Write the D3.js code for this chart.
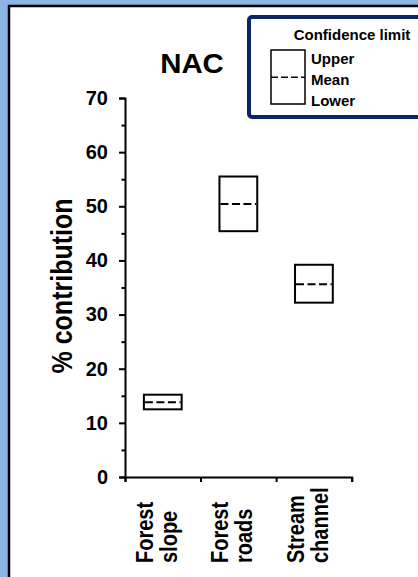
<!DOCTYPE html>
<html>
<head>
<meta charset="utf-8">
<script src="https://cdn.jsdelivr.net/npm/d3@7"></script>
<style>
  body { margin: 0; padding: 0; background: #8db4e2; }
  svg { display: block; font-family: Arial, "Liberation Sans", sans-serif; font-weight: bold; }
</style>
</head>
<body>
<div id="chart"></div>
<script>
// chart values
const categories = ["Forest slope", "Forest roads", "Stream channel"];
const categoryLines = [["Forest", "slope"], ["Forest", "roads"], ["Stream", "channel"]];
const lowerValues = [12.5, 45.4, 32.2];
const meanValues = [13.8, 50.4, 35.6];
const upperValues = [15.2, 55.5, 39.2];
const majorTicks = [0, 10, 20, 30, 40, 50, 60, 70];
const minorTicks = [5, 15, 25, 35, 45, 55, 65];
const legendLabels = ["Upper", "Mean", "Lower"];

const W = 418, H = 577;
const plot = {left: 125, right: 351.7, top: 98, bottom: 477};

const svg = d3.select("#chart")
    .append("svg")
    .attr("width", W)
    .attr("height", H);

// outer blue frame and white panel
svg.append("rect")
    .attr("width", W)
    .attr("height", H)
    .attr("fill", "#8db4e2");

svg.append("rect")
    .attr("x", 9)
    .attr("y", 6)
    .attr("width", W + 20)
    .attr("height", H + 20)
    .attr("fill", "white")
    .attr("stroke", "black")
    .attr("stroke-width", 2.5);

const data = categories.map((c, i) => ({
    name: c,
    lines: categoryLines[i],
    lower: lowerValues[i],
    mean: meanValues[i],
    upper: upperValues[i]
}));

const x = d3.scaleBand()
    .domain(categories)
    .range([plot.left, plot.right])
    .padding(0);

const xEdges = d3.scaleLinear()
    .domain([0, categories.length])
    .range([plot.left, plot.right]);

const y = d3.scaleLinear()
    .domain([0, 70])
    .range([plot.bottom, plot.top]);

// y axis with major and minor ticks
const yAxis = svg.append("g")
    .attr("transform", `translate(${plot.left},0)`)
    .call(d3.axisLeft(y).tickValues(majorTicks).tickSize(6).tickPadding(11).tickFormat(d3.format("d")));

svg.append("g")
    .attr("transform", `translate(${plot.left},0)`)
    .call(d3.axisLeft(y).tickValues(minorTicks).tickSize(3.5).tickFormat(""))
    .select(".domain").remove();

yAxis.selectAll("text")
    .style("font-size", "20px")
    .style("font-family", "Arial, 'Liberation Sans', sans-serif")
    .style("font-weight", "bold")
    .attr("fill", "black");

// x axis: ticks at category boundaries
svg.append("g")
    .attr("transform", `translate(0,${plot.bottom})`)
    .call(d3.axisBottom(xEdges).tickValues(d3.range(categories.length + 1)).tickSize(5).tickFormat(""));

svg.selectAll(".domain, .tick line")
    .attr("stroke", "black")
    .attr("stroke-width", 2);

// category labels, rotated (glyphs a little wider as in the original)
const bw = x.bandwidth();
data.forEach(d => {
    const cx = x(d.name) + bw / 2;
    d.lines.forEach((line, j) => {
        svg.append("text")
            .attr("transform", `translate(${cx + (j === 0 ? -10 : 14)},563) scale(1.15,1) rotate(-90)`)
            .attr("text-anchor", "start")
            .style("font-size", "20px")
            .text(line);
    });
});

// boxes
const boxW = bw * 0.5;
const boxes = svg.selectAll(".box")
    .data(data)
    .join("g")
    .attr("class", "box")
    .attr("transform", d => `translate(${x(d.name) + (bw - boxW) / 2},0)`);

boxes.append("rect")
    .attr("y", d => y(d.upper))
    .attr("height", d => y(d.lower) - y(d.upper))
    .attr("width", boxW)
    .attr("fill", "white")
    .attr("stroke", "black")
    .attr("stroke-width", 2);

boxes.append("line")
    .attr("x1", 1)
    .attr("x2", boxW - 1)
    .attr("y1", d => y(d.mean))
    .attr("y2", d => y(d.mean))
    .attr("stroke", "black")
    .attr("stroke-width", 2)
    .attr("stroke-dasharray", "8,3.5");

// title and axis label
svg.append("text")
    .attr("transform", "translate(192,72.7) scale(1.05,1)")
    .attr("text-anchor", "middle")
    .style("font-size", "28px")
    .text("NAC");

svg.append("text")
    .attr("transform", "translate(72,286) scale(1.15,1) rotate(-90)")
    .attr("text-anchor", "middle")
    .style("font-size", "25px")
    .text("% contribution");

// legend
const legend = svg.append("g");

legend.append("rect")
    .attr("x", 249)
    .attr("y", 17)
    .attr("width", 220)
    .attr("height", 100)
    .attr("rx", 3)
    .attr("fill", "white")
    .attr("stroke", "#0b2463")
    .attr("stroke-width", 4);

legend.append("text")
    .attr("x", 352)
    .attr("y", 40)
    .attr("text-anchor", "middle")
    .style("font-size", "15px")
    .text("Confidence limit");

legend.append("rect")
    .attr("x", 271)
    .attr("y", 50)
    .attr("width", 34)
    .attr("height", 54)
    .attr("fill", "white")
    .attr("stroke", "black")
    .attr("stroke-width", 1.5);

legend.append("line")
    .attr("x1", 271)
    .attr("x2", 305)
    .attr("y1", 77.3)
    .attr("y2", 77.3)
    .attr("stroke", "black")
    .attr("stroke-width", 1.5)
    .attr("stroke-dasharray", "7,3");

legend.selectAll(".leg-label")
    .data(legendLabels)
    .join("text")
    .attr("class", "leg-label")
    .attr("x", 311)
    .attr("y", (d, i) => [63.5, 84.5, 106][i])
    .style("font-size", "15px")
    .text(d => d);
</script>
</body>
</html>
